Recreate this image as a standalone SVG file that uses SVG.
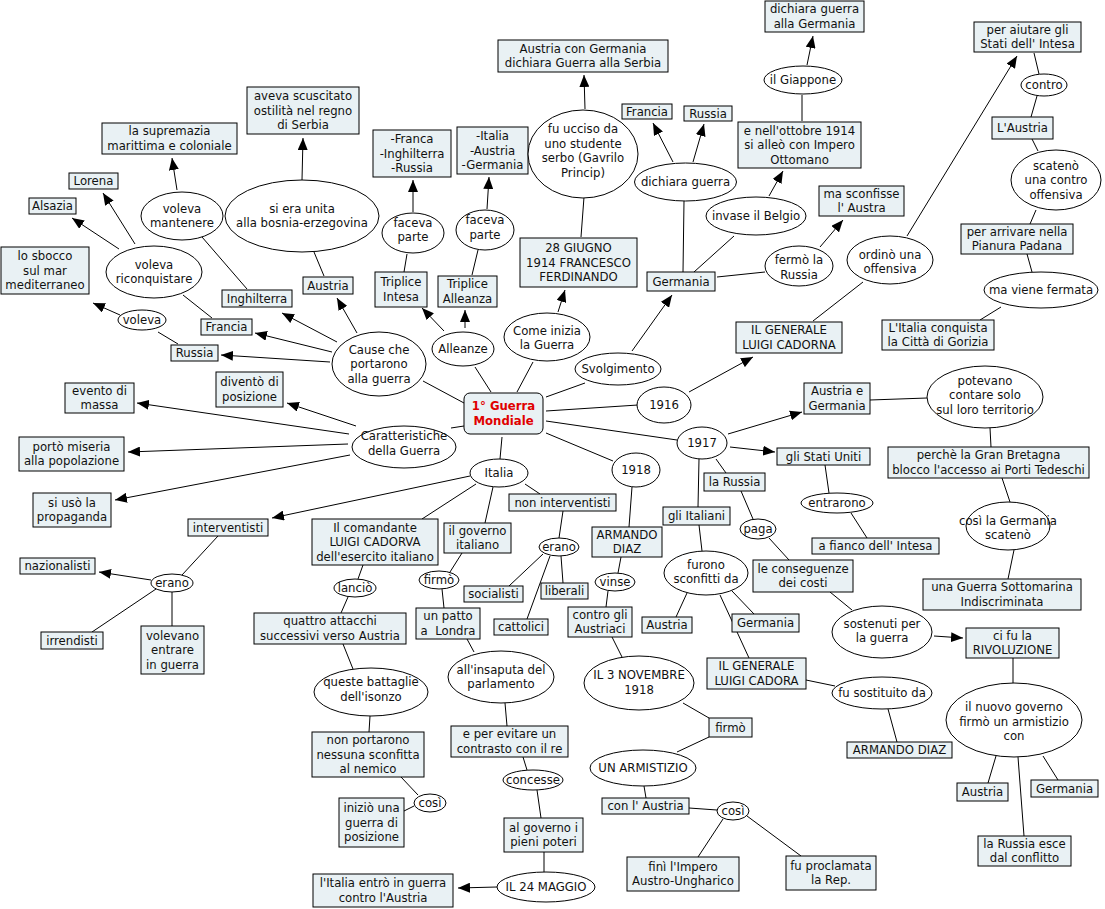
<svg xmlns="http://www.w3.org/2000/svg" width="1105" height="909" viewBox="0 0 1105 909">
<defs>
<style>
.b{fill:#e9f1f4;stroke:#000;stroke-width:1}
.e{fill:#fff;stroke:#000;stroke-width:1}
.c line{stroke:#000;stroke-width:1}
.a{marker-end:url(#ah)}
text{font-family:"DejaVu Sans",Verdana,sans-serif;font-size:11.7px;text-anchor:middle;fill:#111}
.t{font-weight:bold;fill:#e00000}
</style>
<marker id="ah" viewBox="0 0 12 10" refX="12" refY="5" markerWidth="12" markerHeight="10" markerUnits="userSpaceOnUse" orient="auto"><path d="M0,0 L12,5 L0,10 z" fill="#000"/></marker>
</defs>
<rect width="1105" height="909" fill="#fff"/>
<g class="c" id="connectors">
<line x1="464" y1="403" x2="423" y2="381"/>
<line x1="475" y1="367" x2="491" y2="392"/>
<line x1="533" y1="362" x2="517" y2="392"/>
<line x1="585" y1="383" x2="546" y2="397"/>
<line x1="546" y1="411" x2="638" y2="405"/>
<line x1="546" y1="421" x2="677" y2="440"/>
<line x1="546" y1="433" x2="613" y2="461"/>
<line x1="502" y1="437" x2="500" y2="459"/>
<line x1="451" y1="428" x2="464" y2="426"/>
<line class="a" x1="337" y1="342" x2="282" y2="313"/>
<line class="a" x1="357" y1="333" x2="337" y2="298"/>
<line class="a" x1="332" y1="352" x2="255" y2="333"/>
<line class="a" x1="330" y1="362" x2="221" y2="355"/>
<line x1="178" y1="344" x2="158" y2="332"/>
<line class="a" x1="120" y1="315" x2="93" y2="303"/>
<line x1="212" y1="318" x2="183" y2="295"/>
<line class="a" x1="135" y1="244" x2="103" y2="193"/>
<line class="a" x1="119" y1="249" x2="72" y2="218"/>
<line x1="247" y1="289" x2="202" y2="237"/>
<line class="a" x1="177" y1="190" x2="172" y2="158"/>
<line x1="324" y1="276" x2="314" y2="252"/>
<line class="a" x1="302" y1="180" x2="303" y2="138"/>
<line class="a" x1="444" y1="331" x2="422" y2="308"/>
<line class="a" x1="465" y1="328" x2="465" y2="310"/>
<line x1="404" y1="272" x2="407" y2="254"/>
<line class="a" x1="413" y1="212" x2="413" y2="180"/>
<line x1="472" y1="275" x2="478" y2="250"/>
<line class="a" x1="487" y1="209" x2="489" y2="177"/>
<line class="a" x1="558" y1="312" x2="565" y2="290"/>
<line x1="581" y1="237" x2="584" y2="197"/>
<line class="a" x1="585" y1="109" x2="584" y2="75"/>
<line class="a" x1="632" y1="351" x2="672" y2="295"/>
<line x1="683" y1="272" x2="684" y2="201"/>
<line class="a" x1="673" y1="162" x2="653" y2="123"/>
<line class="a" x1="693" y1="162" x2="704" y2="124"/>
<line x1="694" y1="272" x2="734" y2="236"/>
<line class="a" x1="769" y1="196" x2="783" y2="171"/>
<line x1="802" y1="121" x2="802" y2="95"/>
<line class="a" x1="807" y1="65" x2="813" y2="36"/>
<line x1="717" y1="277" x2="765" y2="272"/>
<line class="a" x1="820" y1="247" x2="843" y2="220"/>
<line class="a" x1="689" y1="392" x2="753" y2="357"/>
<line x1="813" y1="321" x2="863" y2="282"/>
<line class="a" x1="907" y1="236" x2="1017" y2="56"/>
<line x1="1034" y1="53" x2="1039" y2="74"/>
<line x1="1037" y1="96" x2="1031" y2="117"/>
<line x1="1032" y1="139" x2="1038" y2="151"/>
<line x1="1036" y1="210" x2="1030" y2="224"/>
<line x1="1027" y1="254" x2="1032" y2="272"/>
<line x1="1001" y1="307" x2="980" y2="320"/>
<line class="a" x1="728" y1="434" x2="802" y2="412"/>
<line class="a" x1="730" y1="447" x2="775" y2="452"/>
<line x1="870" y1="400" x2="927" y2="398"/>
<line x1="990" y1="428" x2="991" y2="447"/>
<line x1="1002" y1="478" x2="1010" y2="502"/>
<line x1="1014" y1="550" x2="1008" y2="579"/>
<line x1="825" y1="465" x2="829" y2="493"/>
<line x1="851" y1="513" x2="867" y2="538"/>
<line x1="716" y1="459" x2="726" y2="473"/>
<line x1="741" y1="491" x2="753" y2="519"/>
<line x1="769" y1="538" x2="789" y2="560"/>
<line x1="830" y1="592" x2="852" y2="610"/>
<line class="a" x1="934" y1="636" x2="963" y2="638"/>
<line x1="1013" y1="658" x2="1013" y2="683"/>
<line x1="996" y1="756" x2="988" y2="783"/>
<line x1="1043" y1="756" x2="1058" y2="780"/>
<line x1="1018" y1="757" x2="1024" y2="836"/>
<line x1="699" y1="459" x2="698" y2="507"/>
<line x1="699" y1="525" x2="702" y2="551"/>
<line x1="687" y1="593" x2="676" y2="617"/>
<line x1="732" y1="591" x2="754" y2="614"/>
<line x1="720" y1="595" x2="749" y2="658"/>
<line x1="806" y1="680" x2="835" y2="686"/>
<line x1="888" y1="709" x2="897" y2="742"/>
<line x1="632" y1="487" x2="629" y2="527"/>
<line x1="621" y1="557" x2="618" y2="573"/>
<line x1="608" y1="591" x2="606" y2="607"/>
<line x1="612" y1="637" x2="622" y2="657"/>
<line x1="683" y1="703" x2="709" y2="718"/>
<line x1="709" y1="737" x2="677" y2="752"/>
<line x1="644" y1="786" x2="646" y2="798"/>
<line x1="689" y1="808" x2="717" y2="810"/>
<line x1="723" y1="819" x2="698" y2="857"/>
<line x1="747" y1="816" x2="801" y2="856"/>
<line class="a" x1="470" y1="476" x2="272" y2="518"/>
<line x1="476" y1="484" x2="422" y2="519"/>
<line x1="493" y1="487" x2="485" y2="523"/>
<line x1="525" y1="484" x2="540" y2="494"/>
<line x1="218" y1="536" x2="182" y2="575"/>
<line class="a" x1="151" y1="580" x2="99" y2="572"/>
<line x1="156" y1="589" x2="92" y2="632"/>
<line x1="172" y1="592" x2="172" y2="626"/>
<line x1="363" y1="565" x2="358" y2="579"/>
<line x1="348" y1="597" x2="341" y2="613"/>
<line x1="343" y1="644" x2="353" y2="669"/>
<line x1="370" y1="716" x2="369" y2="732"/>
<line x1="401" y1="777" x2="418" y2="795"/>
<line x1="414" y1="806" x2="404" y2="811"/>
<line x1="462" y1="553" x2="450" y2="572"/>
<line x1="442" y1="589" x2="444" y2="608"/>
<line x1="467" y1="639" x2="474" y2="652"/>
<line x1="505" y1="703" x2="507" y2="726"/>
<line x1="523" y1="757" x2="527" y2="770"/>
<line x1="537" y1="790" x2="541" y2="818"/>
<line x1="544" y1="852" x2="544" y2="872"/>
<line class="a" x1="497" y1="887" x2="458" y2="888"/>
<line x1="563" y1="511" x2="559" y2="538"/>
<line x1="543" y1="554" x2="509" y2="586"/>
<line x1="561" y1="556" x2="563" y2="583"/>
<line x1="550" y1="556" x2="527" y2="619"/>
<line class="a" x1="356" y1="426" x2="287" y2="403"/>
<line class="a" x1="349" y1="434" x2="137" y2="403"/>
<line class="a" x1="348" y1="444" x2="128" y2="452"/>
<line class="a" x1="350" y1="455" x2="115" y2="500"/>
</g>

<g id="n_central"><rect class="b" x="464" y="393" width="79" height="41" rx="6"/><text class="t" x="503.5" y="410.25">1° Guerra<tspan x="503.5" dy="14.5">Mondiale</tspan></text></g>

<g id="n_aveva"><rect class="b" x="247" y="87" width="112" height="47"/><text x="303" y="100">aveva scuscitato<tspan x="303" dy="14.5">ostilità nel regno</tspan><tspan x="303" dy="14.5">di Serbia</tspan></text></g>
<g id="n_supremazia"><rect class="b" x="102" y="123" width="135" height="31"/><text x="169.5" y="135.25">la supremazia<tspan x="169.5" dy="14.5">marittima e coloniale</tspan></text></g>
<g id="n_lorena"><rect class="b" x="69" y="173" width="49" height="16"/><text x="93.5" y="185">Lorena</text></g>
<g id="n_alsazia"><rect class="b" x="29" y="198" width="47" height="16"/><text x="52.5" y="210">Alsazia</text></g>
<g id="n_sbocco"><rect class="b" x="1" y="247" width="88" height="47"/><text x="45" y="260">lo sbocco<tspan x="45" dy="14.5">sul mar</tspan><tspan x="45" dy="14.5">mediterraneo</tspan></text></g>
<g id="n_inghilterra"><rect class="b" x="222" y="290" width="70" height="17"/><text x="257" y="302.5">Inghilterra</text></g>
<g id="n_austria1"><rect class="b" x="303" y="277" width="50" height="17"/><text x="328" y="289.5">Austria</text></g>
<g id="n_francia1"><rect class="b" x="201" y="319" width="51" height="16"/><text x="226.5" y="331">Francia</text></g>
<g id="n_russia1"><rect class="b" x="171" y="345" width="47" height="16"/><text x="194.5" y="357">Russia</text></g>
<g id="n_austriacon"><rect class="b" x="498" y="40" width="170" height="32"/><text x="583" y="52.75">Austria con Germania<tspan x="583" dy="14.5">dichiara Guerra alla Serbia</tspan></text></g>
<g id="n_franca"><rect class="b" x="373" y="130" width="78" height="47"/><text x="412" y="143">-Franca<tspan x="412" dy="14.5">-Inghilterra</tspan><tspan x="412" dy="14.5">-Russia</tspan></text></g>
<g id="n_italia3"><rect class="b" x="457" y="127" width="71" height="47"/><text x="492.5" y="140">-Italia<tspan x="492.5" dy="14.5">-Austria</tspan><tspan x="492.5" dy="14.5">-Germania</tspan></text></g>
<g id="n_francia2"><rect class="b" x="622" y="104" width="50" height="15"/><text x="647" y="115.5">Francia</text></g>
<g id="n_russia2"><rect class="b" x="684" y="106" width="48" height="15"/><text x="708" y="117.5">Russia</text></g>
<g id="n_tintesa"><rect class="b" x="375" y="272" width="52" height="35"/><text x="401" y="286.25">Triplice<tspan x="401" dy="14.5">Intesa</tspan></text></g>
<g id="n_talleanza"><rect class="b" x="438" y="276" width="59" height="31"/><text x="467.5" y="288.25">Triplice<tspan x="467.5" dy="14.5">Alleanza</tspan></text></g>
<g id="n_giugno"><rect class="b" x="520" y="238" width="117" height="49"/><text x="578.5" y="252">28 GIUGNO<tspan x="578.5" dy="14.5">1914 FRANCESCO</tspan><tspan x="578.5" dy="14.5">FERDINANDO</tspan></text></g>
<g id="n_germania1"><rect class="b" x="647" y="272" width="68" height="19"/><text x="681" y="285.5">Germania</text></g>
<g id="n_dichgerm"><rect class="b" x="765" y="1" width="99" height="31"/><text x="814.5" y="13.25">dichiara guerra<tspan x="814.5" dy="14.5">alla Germania</tspan></text></g>
<g id="n_ottobre"><rect class="b" x="738" y="122" width="123" height="46"/><text x="799.5" y="134.5">e nell'ottobre 1914<tspan x="799.5" dy="14.5">si alleò con Impero</tspan><tspan x="799.5" dy="14.5">Ottomano</tspan></text></g>
<g id="n_sconfisse"><rect class="b" x="819" y="186" width="85" height="30"/><text x="861.5" y="197.75">ma sconfisse<tspan x="861.5" dy="14.5">l' Austra</tspan></text></g>
<g id="n_cadorna"><rect class="b" x="736" y="322" width="106" height="31"/><text x="789" y="334.25">IL GENERALE<tspan x="789" dy="14.5">LUIGI CADORNA</tspan></text></g>
<g id="n_aiutare"><rect class="b" x="974" y="22" width="107" height="30"/><text x="1027.5" y="33.75">per aiutare gli<tspan x="1027.5" dy="14.5">Stati dell' Intesa</tspan></text></g>
<g id="n_laustria"><rect class="b" x="992" y="117" width="61" height="22"/><text x="1022.5" y="132">L'Austria</text></g>
<g id="n_arrivare"><rect class="b" x="961" y="224" width="112" height="30"/><text x="1017" y="235.75">per arrivare nella<tspan x="1017" dy="14.5">Pianura Padana</tspan></text></g>
<g id="n_gorizia"><rect class="b" x="882" y="320" width="112" height="30"/><text x="938" y="331.75">L'Italia conquista<tspan x="938" dy="14.5">la Città di Gorizia</tspan></text></g>
<g id="n_divento"><rect class="b" x="216" y="372" width="67" height="35"/><text x="249.5" y="386.25">diventò di<tspan x="249.5" dy="14.5">posizione</tspan></text></g>
<g id="n_evento"><rect class="b" x="65" y="383" width="69" height="30"/><text x="99.5" y="394.75">evento di<tspan x="99.5" dy="14.5">massa</tspan></text></g>
<g id="n_miseria"><rect class="b" x="19" y="437" width="105" height="34"/><text x="71.5" y="450.75">portò miseria<tspan x="71.5" dy="14.5">alla popolazione</tspan></text></g>
<g id="n_propaganda"><rect class="b" x="33" y="493" width="78" height="34"/><text x="72" y="506.75">si usò la<tspan x="72" dy="14.5">propaganda</tspan></text></g>
<g id="n_interventisti"><rect class="b" x="188" y="519" width="80" height="17"/><text x="228" y="531.5">interventisti</text></g>
<g id="n_noninterv"><rect class="b" x="509" y="494" width="107" height="17"/><text x="562.5" y="506.5">non interventisti</text></g>
<g id="n_italiani"><rect class="b" x="663" y="507" width="67" height="18"/><text x="696.5" y="520">gli Italiani</text></g>
<g id="n_larussia"><rect class="b" x="704" y="473" width="61" height="18"/><text x="734.5" y="486">la Russia</text></g>
<g id="n_diaz1"><rect class="b" x="592" y="527" width="70" height="30"/><text x="627" y="538.75">ARMANDO<tspan x="627" dy="14.5">DIAZ</tspan></text></g>
<g id="n_governo"><rect class="b" x="444" y="523" width="67" height="30"/><text x="477.5" y="534.75">il governo<tspan x="477.5" dy="14.5">italiano</tspan></text></g>
<g id="n_austriaegerm"><rect class="b" x="804" y="383" width="66" height="31"/><text x="837" y="395.25">Austria e<tspan x="837" dy="14.5">Germania</tspan></text></g>
<g id="n_usa"><rect class="b" x="777" y="448" width="93" height="17"/><text x="823.5" y="460.5">gli Stati Uniti</text></g>
<g id="n_perche"><rect class="b" x="888" y="447" width="201" height="31"/><text x="988.5" y="459.25">perchè la Gran Bretagna<tspan x="988.5" dy="14.5">blocco l'accesso ai Porti Tedeschi</tspan></text></g>
<g id="n_afianco"><rect class="b" x="812" y="538" width="127" height="16"/><text x="875.5" y="550">a fianco dell' Intesa</text></g>
<g id="n_conseguenze"><rect class="b" x="753" y="560" width="100" height="32"/><text x="803" y="572.75">le conseguenze<tspan x="803" dy="14.5">dei costi</tspan></text></g>
<g id="n_sottomarina"><rect class="b" x="923" y="579" width="158" height="31"/><text x="1002" y="591.25">una Guerra Sottomarina<tspan x="1002" dy="14.5">Indiscriminata</tspan></text></g>
<g id="n_comandante"><rect class="b" x="312" y="519" width="126" height="46"/><text x="375" y="531.5">Il comandante<tspan x="375" dy="14.5">LUIGI CADORVA</tspan><tspan x="375" dy="14.5">dell'esercito italiano</tspan></text></g>
<g id="n_nazionalisti"><rect class="b" x="20" y="558" width="75" height="16"/><text x="57.5" y="570">nazionalisti</text></g>
<g id="n_irrendisti"><rect class="b" x="41" y="632" width="62" height="17"/><text x="72" y="644.5">irrendisti</text></g>
<g id="n_volevano"><rect class="b" x="141" y="626" width="63" height="48"/><text x="172.5" y="639.5">volevano<tspan x="172.5" dy="14.5">entrare</tspan><tspan x="172.5" dy="14.5">in guerra</tspan></text></g>
<g id="n_attacchi"><rect class="b" x="254" y="613" width="152" height="31"/><text x="330" y="625.25">quattro attacchi<tspan x="330" dy="14.5">successivi verso Austria</tspan></text></g>
<g id="n_patto"><rect class="b" x="416" y="608" width="64" height="31"/><text x="448" y="620.25">un patto<tspan x="448" dy="14.5">a&#160; Londra</tspan></text></g>
<g id="n_socialisti"><rect class="b" x="464" y="586" width="59" height="16"/><text x="493.5" y="598">socialisti</text></g>
<g id="n_liberali"><rect class="b" x="541" y="583" width="47" height="16"/><text x="564.5" y="595">liberali</text></g>
<g id="n_cattolici"><rect class="b" x="494" y="619" width="54" height="16"/><text x="521" y="631">cattolici</text></g>
<g id="n_controgli"><rect class="b" x="568" y="607" width="64" height="30"/><text x="600" y="618.75">contro gli<tspan x="600" dy="14.5">Austriaci</tspan></text></g>
<g id="n_austria2"><rect class="b" x="642" y="617" width="50" height="16"/><text x="667" y="629">Austria</text></g>
<g id="n_germania2"><rect class="b" x="732" y="614" width="67" height="18"/><text x="765.5" y="627">Germania</text></g>
<g id="n_cadora"><rect class="b" x="707" y="658" width="99" height="31"/><text x="756.5" y="670.25">IL GENERALE<tspan x="756.5" dy="14.5">LUIGI CADORA</tspan></text></g>
<g id="n_rivoluzione"><rect class="b" x="966" y="628" width="93" height="30"/><text x="1012.5" y="639.75">ci fu la<tspan x="1012.5" dy="14.5">RIVOLUZIONE</tspan></text></g>
<g id="n_diaz2"><rect class="b" x="847" y="742" width="105" height="16"/><text x="899.5" y="754">ARMANDO DIAZ</text></g>
<g id="n_austria3"><rect class="b" x="957" y="783" width="51" height="18"/><text x="982.5" y="796">Austria</text></g>
<g id="n_germania3"><rect class="b" x="1031" y="780" width="67" height="17"/><text x="1064.5" y="792.5">Germania</text></g>
<g id="n_russiaesce"><rect class="b" x="978" y="836" width="93" height="30"/><text x="1024.5" y="847.75">la Russia esce<tspan x="1024.5" dy="14.5">dal conflitto</tspan></text></g>
<g id="n_firmobox"><rect class="b" x="709" y="718" width="43" height="19"/><text x="730.5" y="731.5">firmò</text></g>
<g id="n_conlaustria"><rect class="b" x="602" y="798" width="87" height="16"/><text x="645.5" y="810">con l' Austria</text></g>
<g id="n_fini"><rect class="b" x="627" y="857" width="112" height="34"/><text x="683" y="870.75">finì l'Impero<tspan x="683" dy="14.5">Austro-Ungharico</tspan></text></g>
<g id="n_rep"><rect class="b" x="786" y="856" width="90" height="34"/><text x="831" y="869.75">fu proclamata<tspan x="831" dy="14.5">la Rep.</tspan></text></g>
<g id="n_nonportarono"><rect class="b" x="312" y="732" width="112" height="45"/><text x="368" y="744">non portarono<tspan x="368" dy="14.5">nessuna sconfitta</tspan><tspan x="368" dy="14.5">al nemico</tspan></text></g>
<g id="n_inizio"><rect class="b" x="339" y="798" width="65" height="49"/><text x="371.5" y="812">iniziò una<tspan x="371.5" dy="14.5">guerra di</tspan><tspan x="371.5" dy="14.5">posizione</tspan></text></g>
<g id="n_evitare"><rect class="b" x="451" y="726" width="117" height="31"/><text x="509.5" y="738.25">e per evitare un<tspan x="509.5" dy="14.5">contrasto con il re</tspan></text></g>
<g id="n_poteri"><rect class="b" x="504" y="818" width="79" height="34"/><text x="543.5" y="831.75">al governo i<tspan x="543.5" dy="14.5">pieni poteri</tspan></text></g>
<g id="n_entro"><rect class="b" x="313" y="874" width="140" height="33"/><text x="383" y="887.25">l'Italia entrò in guerra<tspan x="383" dy="14.5">contro l'Austria</tspan></text></g>

<g id="e_mantenere"><ellipse class="e" cx="182" cy="216" rx="41" ry="24"/><text x="182" y="212.75">voleva<tspan x="182" dy="14.5">mantenere</tspan></text></g>
<g id="e_unita"><ellipse class="e" cx="302" cy="216" rx="77" ry="36"/><text x="302" y="212.75">si era unita<tspan x="302" dy="14.5">alla bosnia-erzegovina</tspan></text></g>
<g id="e_riconquistare"><ellipse class="e" cx="154" cy="272" rx="48" ry="26"/><text x="154" y="268.75">voleva<tspan x="154" dy="14.5">riconquistare</tspan></text></g>
<g id="e_voleva"><ellipse class="e" cx="142" cy="320" rx="24" ry="10"/><text x="142" y="324">voleva</text></g>
<g id="e_cause"><ellipse class="e" cx="379" cy="364" rx="47" ry="32"/><text x="379" y="353.5">Cause che<tspan x="379" dy="14.5">portarono</tspan><tspan x="379" dy="14.5">alla guerra</tspan></text></g>
<g id="e_ucciso"><ellipse class="e" cx="583" cy="154" rx="55" ry="44"/><text x="583" y="133.25">fu ucciso da<tspan x="583" dy="14.5">uno studente</tspan><tspan x="583" dy="14.5">serbo (Gavrilo</tspan><tspan x="583" dy="14.5">Princip)</tspan></text></g>
<g id="e_dichiara"><ellipse class="e" cx="685.5" cy="182" rx="51" ry="19"/><text x="685.5" y="186">dichiara guerra</text></g>
<g id="e_faceva1"><ellipse class="e" cx="413" cy="233" rx="31" ry="20"/><text x="413" y="226.75">faceva<tspan x="413" dy="14.5">parte</tspan></text></g>
<g id="e_faceva2"><ellipse class="e" cx="485" cy="230" rx="29" ry="20"/><text x="485" y="224.25">faceva<tspan x="485" dy="14.5">parte</tspan></text></g>
<g id="e_alleanze"><ellipse class="e" cx="463" cy="349" rx="31" ry="17"/><text x="463" y="353">Alleanze</text></g>
<g id="e_comeinizia"><ellipse class="e" cx="547" cy="337" rx="43" ry="24"/><text x="547" y="334.75">Come inizia<tspan x="547" dy="14.5">la Guerra</tspan></text></g>
<g id="e_svolgimento"><ellipse class="e" cx="618" cy="369" rx="43" ry="16"/><text x="618" y="373">Svolgimento</text></g>
<g id="e_1916"><ellipse class="e" cx="664" cy="405" rx="27" ry="18"/><text x="664" y="409">1916</text></g>
<g id="e_1917"><ellipse class="e" cx="702" cy="443" rx="25" ry="16"/><text x="702" y="446.5">1917</text></g>
<g id="e_1918"><ellipse class="e" cx="636" cy="470" rx="24" ry="17"/><text x="636" y="474">1918</text></g>
<g id="e_italia"><ellipse class="e" cx="499" cy="473" rx="29" ry="14"/><text x="499" y="477">Italia</text></g>
<g id="e_belgio"><ellipse class="e" cx="756" cy="216" rx="50" ry="19"/><text x="756" y="220">invase il Belgio</text></g>
<g id="e_giappone"><ellipse class="e" cx="803" cy="80" rx="39" ry="14"/><text x="803" y="84">il Giappone</text></g>
<g id="e_fermo"><ellipse class="e" cx="799" cy="266" rx="34" ry="20"/><text x="799" y="264.25">fermò la<tspan x="799" dy="14.5">Russia</tspan></text></g>
<g id="e_ordino"><ellipse class="e" cx="890" cy="260" rx="43" ry="24"/><text x="890" y="258.75">ordinò una<tspan x="890" dy="14.5">offensiva</tspan></text></g>
<g id="e_contro"><ellipse class="e" cx="1044" cy="85" rx="23" ry="11"/><text x="1044" y="89">contro</text></g>
<g id="e_scateno"><ellipse class="e" cx="1056" cy="180" rx="45" ry="30"/><text x="1056" y="169.5">scatenò<tspan x="1056" dy="14.5">una contro</tspan><tspan x="1056" dy="14.5">offensiva</tspan></text></g>
<g id="e_fermata"><ellipse class="e" cx="1041" cy="290" rx="57" ry="18"/><text x="1041" y="294">ma viene fermata</text></g>
<g id="e_caratteristiche"><ellipse class="e" cx="404" cy="447" rx="52" ry="21"/><text x="404" y="440">Caratteristiche<tspan x="404" dy="14.5">della Guerra</tspan></text></g>
<g id="e_potevano"><ellipse class="e" cx="985" cy="397" rx="58" ry="31"/><text x="985" y="384.5">potevano<tspan x="985" dy="14.5">contare solo</tspan><tspan x="985" dy="14.5">sul loro territorio</tspan></text></g>
<g id="e_entrarono"><ellipse class="e" cx="837" cy="503" rx="36" ry="10"/><text x="837" y="507">entrarono</text></g>
<g id="e_cosigerm"><ellipse class="e" cx="1008" cy="526" rx="42" ry="24"/><text x="1008" y="524.75">così la Germania<tspan x="1008" dy="14.5">scatenò</tspan></text></g>
<g id="e_erano2"><ellipse class="e" cx="559" cy="547" rx="20" ry="9"/><text x="559" y="551">erano</text></g>
<g id="e_paga"><ellipse class="e" cx="758" cy="529" rx="18" ry="10"/><text x="758" y="533">paga</text></g>
<g id="e_sostenuti"><ellipse class="e" cx="882" cy="632" rx="50" ry="26"/><text x="882" y="627.75">sostenuti per<tspan x="882" dy="14.5">la guerra</tspan></text></g>
<g id="e_erano1"><ellipse class="e" cx="172" cy="583" rx="21" ry="9"/><text x="172" y="587">erano</text></g>
<g id="e_lancio"><ellipse class="e" cx="355" cy="588" rx="21" ry="9"/><text x="355" y="592">lanciò</text></g>
<g id="e_firmo"><ellipse class="e" cx="439" cy="580" rx="20" ry="9"/><text x="439" y="584">firmò</text></g>
<g id="e_battaglie"><ellipse class="e" cx="371" cy="692" rx="57" ry="24"/><text x="371" y="686.25">queste battaglie<tspan x="371" dy="14.5">dell'isonzo</tspan></text></g>
<g id="e_vinse"><ellipse class="e" cx="615" cy="582" rx="20" ry="9"/><text x="615" y="586">vinse</text></g>
<g id="e_furono"><ellipse class="e" cx="706" cy="573" rx="42" ry="22"/><text x="706" y="568.75">furono<tspan x="706" dy="14.5">sconfitti da</tspan></text></g>
<g id="e_insaputa"><ellipse class="e" cx="501" cy="677" rx="53" ry="26"/><text x="501" y="673.75">all'insaputa del<tspan x="501" dy="14.5">parlamento</tspan></text></g>
<g id="e_novembre"><ellipse class="e" cx="639" cy="683" rx="55" ry="27"/><text x="639" y="679.25">IL 3 NOVEMBRE<tspan x="639" dy="14.5">1918</tspan></text></g>
<g id="e_sostituito"><ellipse class="e" cx="882" cy="693" rx="50" ry="16"/><text x="882" y="697">fu sostituito da</text></g>
<g id="e_nuovogov"><ellipse class="e" cx="1014" cy="720" rx="68" ry="37"/><text x="1014" y="711">il nuovo governo<tspan x="1014" dy="14.5">firmò un armistizio</tspan><tspan x="1014" dy="14.5">con</tspan></text></g>
<g id="e_armistizio"><ellipse class="e" cx="643" cy="768" rx="53" ry="18"/><text x="643" y="772">UN ARMISTIZIO</text></g>
<g id="e_cosi2"><ellipse class="e" cx="733" cy="811" rx="16" ry="9"/><text x="733" y="815">così</text></g>
<g id="e_cosi1"><ellipse class="e" cx="430" cy="803" rx="16" ry="9"/><text x="430" y="807">così</text></g>
<g id="e_concesse"><ellipse class="e" cx="533" cy="780" rx="30" ry="10"/><text x="533" y="784">concesse</text></g>
<g id="e_maggio"><ellipse class="e" cx="546" cy="887" rx="49" ry="15"/><text x="546" y="891">IL 24 MAGGIO</text></g>
</svg>
